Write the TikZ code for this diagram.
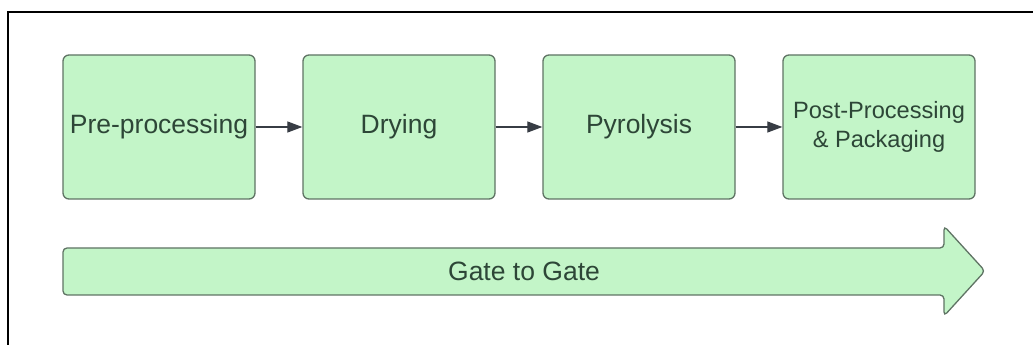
\documentclass[tikz,border=0pt]{standalone}
\usepackage{fontspec}
\setmainfont{Liberation Sans}
\usetikzlibrary{positioning,arrows.meta}

\definecolor{stagefill}{RGB}{195,245,200}
\definecolor{stageline}{RGB}{95,115,100}
\definecolor{stagetext}{RGB}{45,70,55}
\definecolor{linkcol}{RGB}{55,60,68}

\newcommand*{\stagew}{192}
\newcommand*{\stageh}{144}

\begin{document}
\begin{tikzpicture}
[
	x=1pt, y=1pt,
	stage/.style={rectangle,draw=stageline,fill=stagefill,line width=1.3pt,rounded corners=6pt,
		minimum width=\stagew pt,minimum height=\stageh pt,inner sep=0pt,align=center,
		text=stagetext,font=\fontsize{26.5}{31}\selectfont},
	link/.style={-{Triangle[length=15pt,width=11pt]},draw=linkcol,fill=linkcol,line width=1.2pt},
	node distance=46.7pt
]

	\useasboundingbox (0,0) rectangle (1033,345);

	% frame
	\draw[line width=2pt] (8,0) -- (8,333) -- (1033,333);

	% stages
	\node[stage] (pre) at (159,218) {Pre-processing};
	\node[stage, right=of pre] (dry) {Drying};
	\node[stage, right=of dry] (pyro) {Pyrolysis};
	\node[stage, right=of pyro, font=\fontsize{23.6}{29}\selectfont] (post) {Post-Processing\\\& Packaging};

	% links
	\draw[link] (pre) -- (dry);
	\draw[link] (dry) -- (pyro);
	\draw[link] (pyro) -- (post);

	% gate to gate arrow
	\draw[draw=stageline, fill=stagefill, line width=1.3pt, rounded corners=4pt]
		(63,97) -- (944,97) -- (944,119) -- (985,74) -- (944,29) -- (944,50) -- (63,50) -- cycle;
	\node[text=stagetext, font=\fontsize{26.5}{31}\selectfont] (gate) at (524,74) {Gate to Gate};

\end{tikzpicture}
\end{document}
